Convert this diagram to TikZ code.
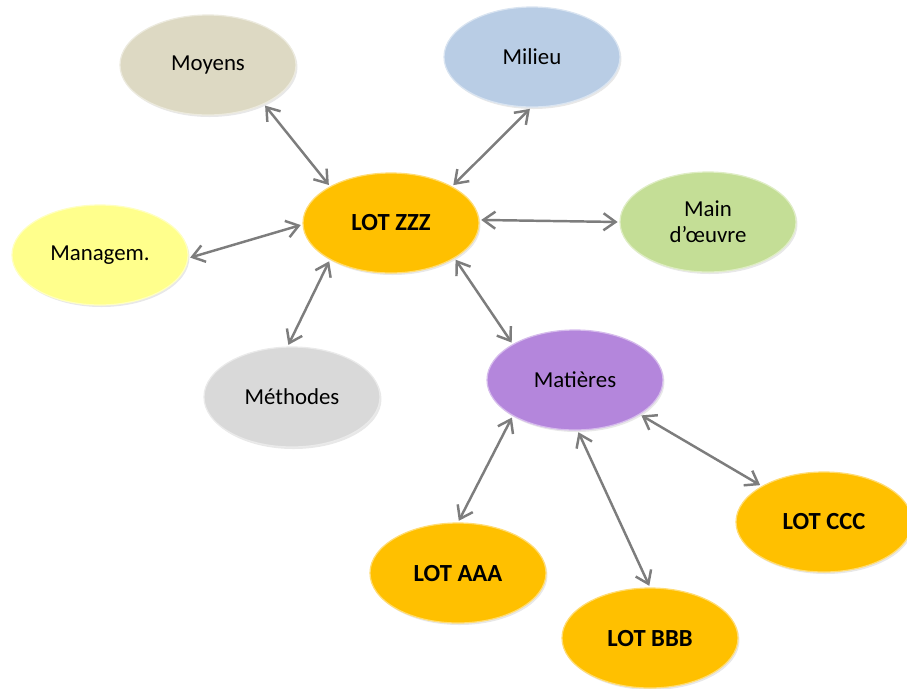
\documentclass[tikz,border=0pt]{standalone}
\usepackage{fontspec}
\setmainfont{Carlito}
\usetikzlibrary{arrows.meta, shapes.geometric, shadows}
\definecolor{LotColor}{RGB}{255,192,0}
\definecolor{MoyensColor}{RGB}{221,217,195}
\definecolor{MilieuColor}{RGB}{185,205,229}
\definecolor{MainColor}{RGB}{196,222,150}
\definecolor{ManagColor}{RGB}{255,255,140}
\definecolor{MethColor}{RGB}{217,217,217}
\definecolor{MatColor}{RGB}{180,134,220}
\definecolor{LinkColor}{RGB}{125,125,125}

\begin{document}
\begin{tikzpicture}[
    bubble/.style={ellipse, draw=#1!55!white, line width=0.7pt, fill=#1,
      minimum width=3.52cm, minimum height=2cm, inner sep=1pt, align=center,
      font=\fontsize{13}{15}\selectfont,
      drop shadow={opacity=0.18, shadow xshift=0.03cm, shadow yshift=-0.04cm}},
    lot/.style={bubble=LotColor, font=\fontsize{14}{16}\selectfont\bfseries},
    link/.style={{Straight Barb[length=2.4mm, width=3.4mm]}-{Straight Barb[length=2.4mm, width=3.4mm]},
      draw=LinkColor, line width=1.4pt, shorten <=1pt, shorten >=1pt}]
  \useasboundingbox (0,0) rectangle (18.14,-13.76);

  % centre
  \node[lot] (zzz) at (7.82,-4.46) {LOT ZZZ};

  % les M autour
  \node[bubble=MoyensColor] (moyens) at (4.16,-1.30) {Moyens};
  \node[bubble=MilieuColor] (milieu) at (10.64,-1.14) {Milieu};
  \node[bubble=MainColor] (main) at (14.16,-4.44) {Main\\d’œuvre};
  \node[bubble=ManagColor] (manag) at (2.00,-5.10) {Managem.};
  \node[bubble=MethColor] (meth) at (5.84,-7.94) {Méthodes};
  \node[bubble=MatColor] (mat) at (11.50,-7.60) {Matières};

  % lots amont
  \node[lot] (aaa) at (9.16,-11.46) {LOT AAA};
  \node[lot] (bbb) at (13.00,-12.76) {LOT BBB};
  \node[lot] (ccc) at (16.48,-10.44) {LOT CCC};

  \draw[link] (moyens.-35) -- (zzz.149);
  \draw[link] (milieu.-91) -- (zzz.31);
  \draw[link] (manag.-2) -- (zzz.181);
  \draw[link] (zzz.2) -- (main.180);
  \draw[link] (meth.95) -- (zzz.211);
  \draw[link] (zzz.-29) -- (mat.150);
  \draw[link] (mat.210) -- (aaa.90);
  \draw[link] (mat.-87) -- (bbb.90);
  \draw[link] (mat.-28) -- (ccc.150);
\end{tikzpicture}
\end{document}
